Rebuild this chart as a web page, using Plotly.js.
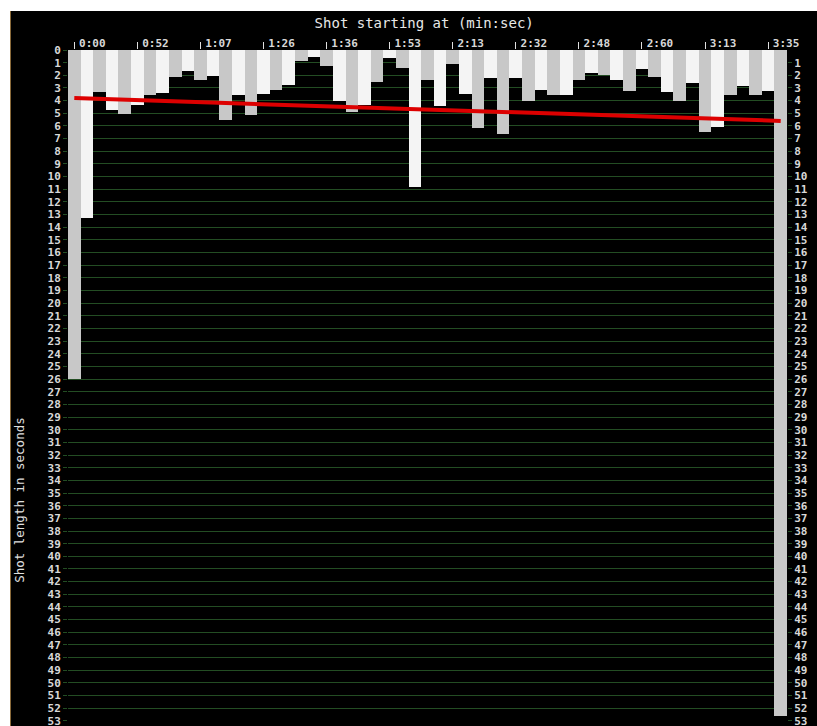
<!DOCTYPE html>
<html>
<head>
<meta charset="utf-8">
<script src="https://cdn.plot.ly/plotly-3.0.1.min.js"></script>
<style>
  html, body { margin: 0; padding: 0; background: #ffffff; width: 817px; height: 726px; overflow: hidden; }
  #chart { position: absolute; left: 10px; top: 11px; width: 807px; height: 715px; border-left: 1px solid #8a6a3a; box-sizing: border-box; }
</style>
</head>
<body>
<div id="chart"></div>
<script>
// Shot lengths in seconds, one per shot, in order
const shotLengths = [
  26.0, 13.3, 3.34, 4.76, 5.03, 4.32, 3.58, 3.42, 2.16, 1.68,
  2.34, 2.05, 5.53, 3.58, 5.1, 3.45, 3.18, 2.76, 0.87, 0.55,
  1.26, 4.0, 4.9, 4.34, 2.55, 0.66, 1.45, 10.81, 2.37, 4.4,
  1.08, 3.45, 6.15, 2.18, 6.65, 2.18, 4.03, 3.16, 3.55, 3.55,
  2.37, 1.84, 1.95, 2.34, 3.26, 1.47, 2.13, 3.34, 4.03, 2.63,
  6.45, 6.05, 3.55, 2.84, 3.55, 3.26, 52.6
];
const shotIndex = shotLengths.map((_, i) => i);

// Start-time labels shown above every fifth shot
const tickLabels = ["0:00","0:52","1:07","1:26","1:36","1:53","2:13","2:32","2:48","2:60","3:13","3:35"];
const tickShots = tickLabels.map((_, i) => i * 5);

// Seconds labelled on the right-hand axis (1 to 53)
const rightSeconds = Array.from({ length: 53 }, (_, i) => i + 1);

// Trend line end points (shot index, seconds)
const trendX = [0, 56];
const trendY = [3.8, 5.6];

const barColors = shotIndex.map(i => (i % 2 === 0 ? '#c8c8c8' : '#f4f4f4'));

const tickFont = { family: 'DejaVu Sans Mono', size: 11, color: '#d8d8d8', weight: 'bold' };
const gridGreen = '#234d23';

const traces = [
  {
    type: 'bar',
    x: shotIndex,
    y: shotLengths,
    marker: { color: barColors, line: { width: 0 } },
    hoverinfo: 'skip'
  },
  {
    type: 'scatter',
    mode: 'lines',
    x: trendX,
    y: trendY,
    yaxis: 'y2',
    line: { color: '#dd0000', width: 4 },
    hoverinfo: 'skip'
  }
];

const yCommon = {
  range: [53.01, 0],
  ticks: 'outside',
  ticklen: 4,
  tickcolor: gridGreen,
  tickfont: tickFont,
  ticklabeloverflow: 'allow',
  zeroline: false,
  showline: false,
  fixedrange: true
};

const layout = {
  width: 807,
  height: 715,
  margin: { l: 57, r: 31, t: 39, b: 5, pad: 0 },
  paper_bgcolor: '#000000',
  plot_bgcolor: '#000000',
  bargap: 0,
  showlegend: false,
  title: {
    text: 'Shot starting at (min:sec)',
    font: { family: 'DejaVu Sans Mono', size: 14, color: '#e8e8e8' },
    x: 0.512, xanchor: 'center', xref: 'container',
    y: 0.983, yanchor: 'middle', yref: 'container'
  },
  xaxis: {
    side: 'top',
    range: [-0.5, 56.5],
    tickmode: 'array',
    tickvals: tickShots,
    ticktext: tickLabels,
    ticks: 'outside',
    ticklen: 7,
    tickwidth: 1,
    tickcolor: '#e0e0e0',
    tickfont: tickFont,
    ticklabelshift: 18,
    ticklabelstandoff: -9,
    showgrid: false,
    zeroline: false,
    showline: false,
    fixedrange: true
  },
  yaxis: Object.assign({}, yCommon, {
    side: 'left',
    tick0: 0,
    dtick: 1,
    showgrid: true,
    gridcolor: gridGreen,
    gridwidth: 1
  }),
  yaxis2: Object.assign({}, yCommon, {
    side: 'right',
    overlaying: 'y',
    tickmode: 'array',
    tickvals: rightSeconds,
    ticktext: rightSeconds.map(String),
    showgrid: false
  }),
  annotations: [
    {
      text: 'Shot length in seconds',
      xref: 'paper', yref: 'paper',
      x: -0.0673, y: 0.329,
      xanchor: 'center', yanchor: 'middle',
      textangle: -90,
      showarrow: false,
      font: { family: 'DejaVu Sans Mono', size: 12.5, color: '#e0e0e0' }
    }
  ]
};

Plotly.newPlot('chart', traces, layout, { staticPlot: true, displayModeBar: false });
</script>
</body>
</html>
